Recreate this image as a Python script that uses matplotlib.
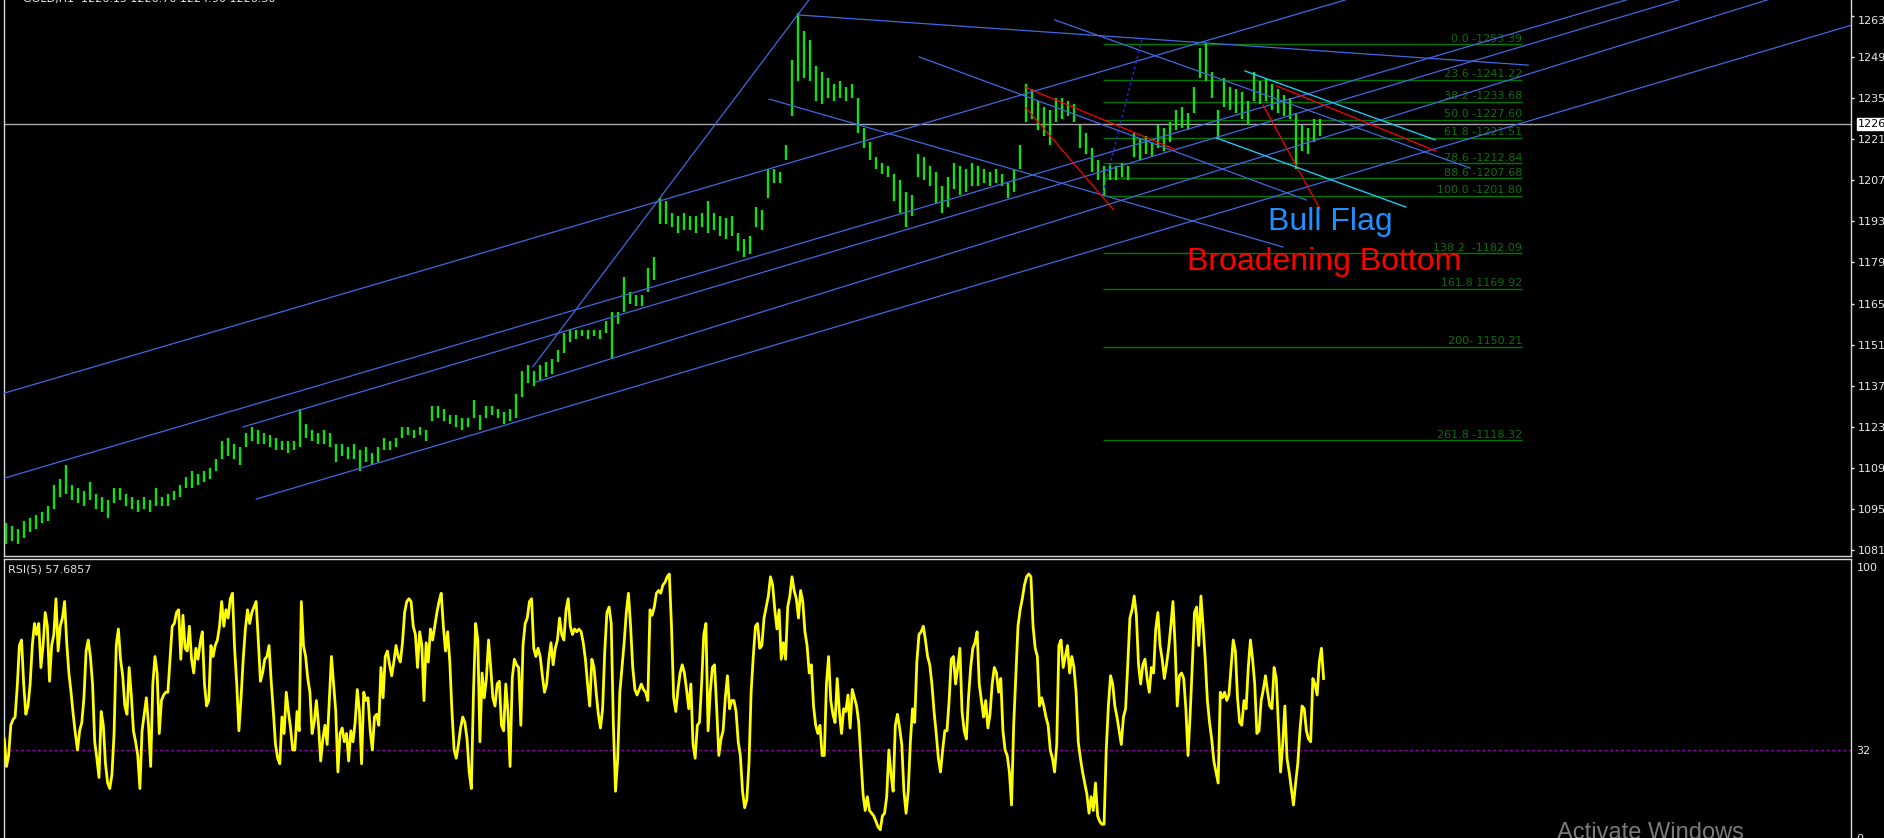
import numpy as np
import matplotlib.pyplot as plt

# H1 bars, one value per bar (low / high)
bar_low = [1083, 1084, 1083, 1085, 1087, 1088, 1090, 1091, 1095, 1099,
           1100, 1098, 1097, 1096, 1098, 1095, 1094, 1092, 1097, 1098,
           1096, 1095, 1094, 1095, 1094, 1096, 1096, 1096, 1098, 1099,
           1102, 1102, 1103, 1104, 1105, 1108, 1112, 1113, 1112, 1110,
           1116, 1118, 1117, 1117, 1116, 1115, 1115, 1114, 1115, 1116,
           1119, 1118, 1117, 1117, 1116, 1111, 1113, 1112, 1112, 1108,
           1111, 1110, 1111, 1115, 1115, 1116, 1119, 1120, 1119, 1120,
           1118, 1125, 1126, 1125, 1124, 1123, 1122, 1123, 1126, 1122,
           1126, 1127, 1126, 1124, 1125, 1126, 1133, 1138, 1137, 1139,
           1140, 1141, 1145, 1148, 1152, 1153, 1154, 1153, 1154, 1153,
           1155, 1146, 1158, 1162, 1165, 1164, 1164, 1169, 1173, 1192,
           1192, 1191, 1189, 1190, 1190, 1189, 1191, 1189, 1190, 1188,
           1187, 1188, 1183, 1181, 1182, 1191, 1190, 1201, 1206, 1206,
           1214, 1229, 1241, 1242, 1241, 1234, 1233, 1235, 1234, 1235,
           1234, 1235, 1223, 1218, 1214, 1211, 1209, 1208, 1200, 1196,
           1191, 1195, 1208, 1207, 1205, 1199, 1196, 1198, 1204, 1202,
           1203, 1205, 1205, 1206, 1205, 1206, 1205, 1201, 1203, 1211,
           1227, 1228, 1224, 1222, 1219, 1227, 1228, 1229, 1227, 1218,
           1216, 1210, 1207, 1202, 1207, 1207, 1208, 1207, 1215, 1214,
           1216, 1215, 1218, 1217, 1220, 1224, 1225, 1224, 1230, 1242,
           1241, 1235, 1221, 1232, 1231, 1230, 1228, 1226, 1234, 1233,
           1234, 1231, 1230, 1229, 1228, 1211, 1217, 1216, 1220, 1222]
bar_high = [1090, 1089, 1088, 1091, 1092, 1093, 1094, 1096, 1103, 1105,
            1110, 1103, 1102, 1101, 1104, 1100, 1099, 1098, 1102, 1102,
            1100, 1099, 1098, 1099, 1098, 1102, 1099, 1100, 1101, 1103,
            1106, 1108, 1107, 1108, 1109, 1112, 1118, 1119, 1117, 1116,
            1121, 1123, 1122, 1121, 1120, 1119, 1118, 1118, 1118, 1129,
            1124, 1122, 1121, 1122, 1121, 1117, 1117, 1116, 1117, 1115,
            1116, 1114, 1116, 1119, 1118, 1119, 1123, 1123, 1122, 1123,
            1122, 1130, 1130, 1129, 1127, 1127, 1126, 1126, 1132, 1127,
            1130, 1130, 1129, 1128, 1129, 1134, 1142, 1144, 1142, 1144,
            1145, 1146, 1149, 1155, 1156, 1156, 1156, 1156, 1156, 1156,
            1159, 1162, 1162, 1174, 1169, 1168, 1168, 1177, 1181, 1201,
            1200, 1196, 1195, 1196, 1195, 1195, 1196, 1200, 1196, 1195,
            1194, 1195, 1189, 1187, 1188, 1198, 1197, 1211, 1211, 1210,
            1219, 1248, 1264, 1258, 1255, 1246, 1244, 1242, 1240, 1241,
            1239, 1240, 1235, 1225, 1220, 1215, 1213, 1212, 1209, 1207,
            1203, 1202, 1216, 1215, 1212, 1210, 1205, 1208, 1213, 1212,
            1211, 1213, 1212, 1211, 1210, 1211, 1209, 1206, 1211, 1219,
            1240, 1238, 1234, 1232, 1231, 1235, 1235, 1234, 1233, 1226,
            1223, 1218, 1214, 1212, 1213, 1212, 1213, 1212, 1223, 1221,
            1222, 1220, 1226, 1225, 1227, 1231, 1232, 1230, 1239, 1252,
            1254, 1244, 1231, 1242, 1239, 1238, 1237, 1234, 1244, 1241,
            1242, 1240, 1238, 1236, 1235, 1230, 1226, 1225, 1228, 1228]

# RSI(5)
rsi = [36, 26, 30, 41, 43, 44, 55, 70, 72,
       56, 45, 48, 56, 70, 78, 74, 78, 62, 70, 82, 77, 57, 70, 74, 87, 68, 77, 80, 86,
       71, 60, 53, 45, 38, 32, 39, 42, 51, 68, 72, 66, 56, 35, 29, 22, 46, 41, 27, 20,
       18, 23, 38, 70, 76, 65, 59, 48, 45, 62, 52, 39, 35, 30, 18, 39, 45, 51, 41, 26,
       56, 66, 60, 38, 50, 52, 53, 53, 65, 77, 78, 82, 83, 65, 81, 69, 68, 77, 65, 60,
       69, 65, 71, 75, 56, 48, 50, 70, 66, 70, 72, 77, 86, 77, 83, 80, 87, 89, 69, 56,
       39, 51, 65, 76, 83, 78, 82, 84, 86, 72, 57, 60, 65, 66, 70, 57, 46, 34, 29, 27,
       44, 38, 53, 46, 40, 32, 32, 46, 39, 86, 70, 66, 58, 53, 38, 42, 50, 41, 28, 36,
       41, 34, 50, 66, 56, 46, 24, 38, 40, 35, 38, 28, 39, 35, 42, 54, 46, 27, 53, 50,
       51, 39, 32, 44, 45, 41, 62, 51, 66, 68, 63, 59, 64, 70, 66, 64, 71, 82, 86, 87,
       86, 77, 74, 62, 75, 70, 50, 71, 64, 76, 72, 77, 82, 86, 89, 77, 68, 75, 64, 46,
       32, 29, 34, 40, 44, 42, 36, 24, 18, 53, 78, 72, 35, 60, 51, 58, 72, 62, 51, 48,
       56, 57, 41, 39, 56, 46, 26, 58, 65, 63, 62, 41, 70, 78, 80, 86, 87, 69, 66, 69,
       66, 59, 53, 56, 65, 71, 63, 69, 72, 80, 74, 72, 83, 87, 77, 74, 76, 75, 76, 75,
       71, 65, 56, 48, 65, 62, 53, 45, 40, 47, 68, 82, 84, 78, 41, 17, 29, 53, 62, 71,
       82, 89, 77, 62, 54, 52, 54, 56, 54, 53, 50, 83, 81, 84, 89, 90, 89, 92, 93,
       95, 96, 77, 51, 46, 54, 60, 63, 60, 54, 47, 56, 34, 29, 41, 42, 56, 74, 78, 39,
       53, 62, 63, 47, 30, 36, 39, 51, 59, 47, 50, 50, 46, 35, 30, 17, 11, 14, 27, 53,
       66, 77, 78, 69, 70, 80, 84, 88, 95, 92, 83, 76, 83, 65, 71, 65, 84, 88, 95, 90,
       87, 80, 90, 86, 75, 70, 60, 63, 48, 41, 38, 41, 30, 30, 56, 66, 50, 45, 42, 58,
       46, 38, 47, 46, 52, 40, 54, 51, 48, 42, 29, 16, 10, 15, 10, 9, 8, 6, 4, 3,
       8, 9, 15, 32, 23, 17, 41, 45, 40, 34, 17, 9, 17, 35, 47, 42, 64, 74, 75, 77,
       72, 66, 63, 56, 46, 38, 29, 24, 32, 39, 39, 50, 65, 66, 56, 62, 69, 46, 39, 36,
       51, 62, 69, 71, 75, 56, 50, 44, 50, 40, 45, 56, 62, 60, 53, 58, 39, 32, 30, 24,
       12, 41, 59, 77, 83, 87, 92, 95, 96, 95, 77, 69, 66, 48, 51, 48, 44, 41, 32, 29,
       24, 34, 70, 72, 62, 66, 70, 60, 66, 62, 53, 35, 29, 24, 20, 16, 9, 15, 10, 20,
       8, 6, 5, 5, 32, 48, 59, 56, 48, 44, 39, 34, 44, 47, 63, 80, 83, 88, 81, 63,
       56, 63, 65, 58, 53, 62, 60, 76, 82, 70, 65, 58, 63, 69, 77, 86, 70, 48, 59, 60,
       58, 47, 30, 45, 63, 82, 84, 70, 88, 77, 65, 50, 42, 36, 28, 24, 20, 53, 51, 53,
       50, 52, 62, 72, 68, 51, 42, 41, 50, 47, 62, 72, 65, 56, 38, 39, 50, 54, 59, 53,
       48, 47, 62, 58, 41, 24, 34, 48, 29, 24, 18, 12, 20, 27, 39, 48, 47, 39, 36, 35,
       58, 56, 52, 64, 69, 58]

# trend lines: (bar0, price0, bar1, price1)
blue_lines = [(-0.2, 1134.5, 223.2, 1268.5),
              (-0.2, 1105.5, 270.0, 1268.5),
              (39.5, 1122.9, 278.7, 1268.5),
              (41.7, 1098.3, 307.7, 1260.0),
              (88.3, 1138.2, 293.5, 1268.5),
              (87.8, 1143.4, 133.8, 1268.5),
              (132.0, 1263.4, 253.7, 1246.3),
              (127.2, 1234.7, 212.8, 1184.3),
              (152.2, 1249.1, 216.7, 1200.3),
              (174.8, 1261.7, 244.0, 1211.2)]
red_lines = [(169.8, 1238.8, 195.0, 1217.4),
             (170.0, 1231.7, 184.5, 1197.2),
             (211.8, 1239.2, 238.3, 1217.0),
             (209.5, 1232.7, 219.0, 1197.2)]
cyan_lines = [(206.5, 1244.3, 238.2, 1220.8),
              (201.8, 1221.4, 233.3, 1197.9)]
dotted_line = (182.8, 1202.7, 189.3, 1254.9)

# fibonacci levels
fib_price = [1253.39, 1241.22, 1233.68, 1227.60, 1221.51, 1212.84, 1207.68,
             1201.80, 1182.09, 1169.92, 1150.21, 1118.32]
fib_text = ['0.0 -1253.39', '23.6 -1241.22', '38.2 -1233.68', '50.0 -1227.60',
            '61.8 -1221.51', '78.6 -1212.84', '88.6 -1207.68', '100.0 -1201.80',
            '138.2  -1182.09', '161.8 1169.92', '200- 1150.21', '261.8 -1118.32']
fib_x = (182.8, 252.7)

price_ticks = [1263, 1249, 1235, 1221, 1207, 1193, 1179, 1165, 1151, 1137,
               1123, 1109, 1095, 1081]
last_price = 1226.30

W, H = 1884, 838
plt.rcParams['font.family'] = 'DejaVu Sans'
fig = plt.figure(figsize=(W / 100, H / 100), dpi=100, facecolor='black')
ax = fig.add_axes([4 / W, (H - 556) / H, 1847 / W, 556 / H], facecolor='black')
ax2 = fig.add_axes([4 / W, 0, 1847 / W, 279 / H], facecolor='black')

frame = '#d8d8d8'
for a in (ax, ax2):
    for s in a.spines.values():
        s.set_color(frame)
        s.set_linewidth(1)
    a.set_xlim(-0.333, 307.5)
    a.set_xticks([])
    a.yaxis.tick_right()
ax.spines['top'].set_visible(False)
ax2.spines['bottom'].set_visible(False)

# price panel
x = np.arange(len(bar_low))
ax.vlines(x, bar_low, bar_high, color='#10e010', lw=1.7, zorder=3)
ax.axhline(last_price, color='#a8a8a8', lw=1, zorder=2)

for x0, y0, x1, y1 in blue_lines:
    ax.plot([x0, x1], [y0, y1], color='#4169e1', lw=0.9, zorder=4)
for x0, y0, x1, y1 in red_lines:
    ax.plot([x0, x1], [y0, y1], color='#ff0000', lw=0.9, zorder=4)
for x0, y0, x1, y1 in cyan_lines:
    ax.plot([x0, x1], [y0, y1], color='#1ec8f0', lw=1.0, zorder=4)
ax.plot(dotted_line[::2], dotted_line[1::2], color='#2828f0', lw=1.0,
        ls=(0, (2, 2)), zorder=4)

ax.hlines(fib_price, fib_x[0], fib_x[1], color='#007800', lw=1, zorder=1)
for p, t in zip(fib_price, fib_text):
    ax.annotate(t, (fib_x[1], p), xytext=(0, 0.5), textcoords='offset points',
                ha='right', va='bottom', fontsize=8, color='#0f6e0f')

ax.text(210.3, 1192.8, 'Bull Flag', color='#1e90ff', fontsize=23,
        family='Liberation Sans', ha='left', va='center', zorder=5)
ax.text(196.8, 1179.3, 'Broadening Bottom', color='#ff0000', fontsize=23,
        family='Liberation Sans', ha='left', va='center', zorder=5)

ax.set_ylim(1078.9, 1268.5)
ax.set_yticks(price_ticks)
ax.set_yticklabels([str(v) for v in price_ticks])
ax.tick_params(axis='y', colors='#e8e8e8', labelsize=8, length=2.5, pad=2.5,
               width=1)
ax.get_yticklabels()[0].set_va('top')
ax.annotate(f'{int(last_price)}', xy=(1.0, last_price),
            xycoords=('axes fraction', 'data'), xytext=(5, 0),
            textcoords='offset points', ha='left', va='center', fontsize=8,
            color='black', bbox=dict(fc='white', ec='white', pad=0.8), zorder=6)

# RSI panel
rx = np.linspace(-0.28, 219.6, len(rsi))
ax2.plot(rx, rsi, color='#ffff00', lw=2.0, zorder=3)
ax2.axhline(32, color='#9000b0', lw=1, ls=(0, (2, 2)), zorder=2)
ax2.set_ylim(1.02, 101.46)
ax2.set_yticks([100, 32, 0])
ax2.set_yticklabels(['100', '32', '0'])
ax2.tick_params(axis='y', colors='#e8e8e8', labelsize=8, length=0, pad=4)
ax2.get_yticklabels()[0].set_va('top')

fig.text(8 / W, (H - 565) / H, 'RSI(5) 57.6857', color='#e0e0e0', fontsize=8,
         ha='left', va='top')
fig.text(23 / W, (H - 2) / H, 'GOLD,H1  1226.15 1226.70 1224.90 1226.30',
         color='#e8e8e8', fontsize=8, ha='left', va='baseline')
fig.text(1557 / W, (H - 822) / H, 'Activate Windows', color='#7a7a7a',
         fontsize=17, family='Liberation Sans', ha='left', va='top')

fig.savefig('out.png', dpi=100, facecolor='black')
